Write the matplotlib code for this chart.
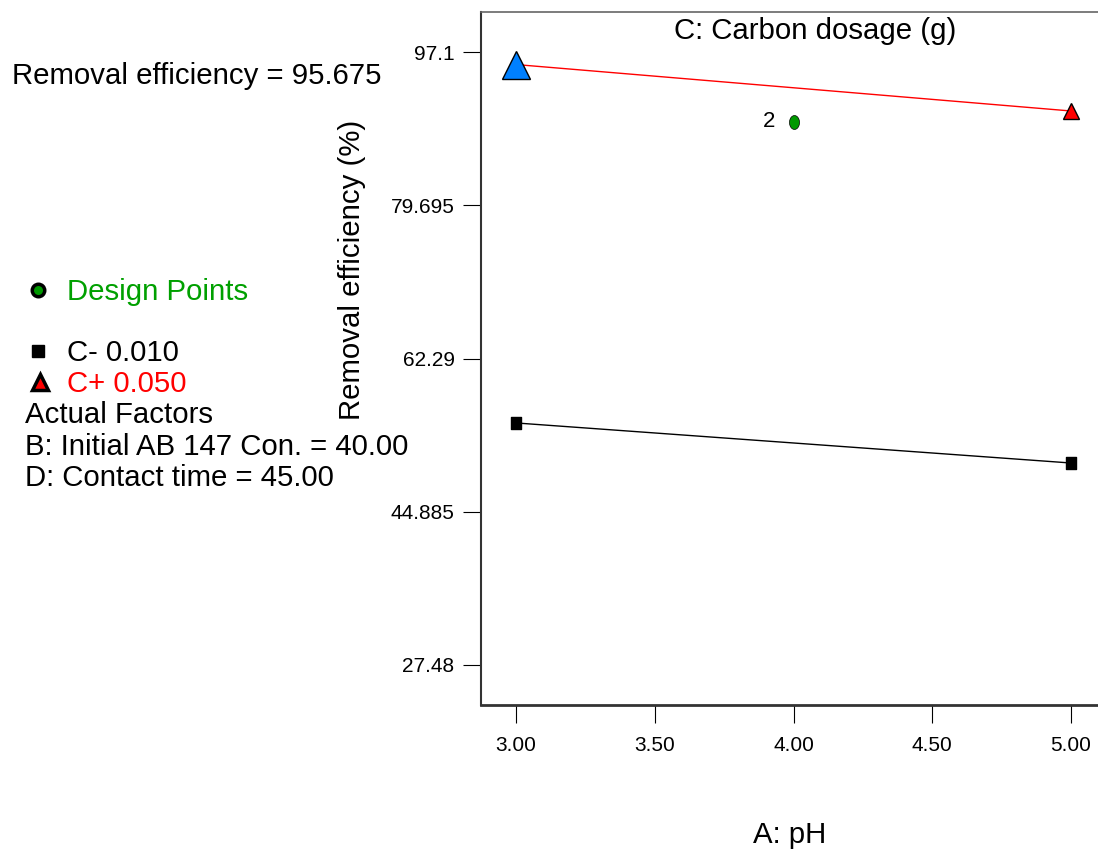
import numpy as np
import matplotlib.pyplot as plt
from matplotlib.path import Path

plt.rcParams['font.family'] = ['Liberation Sans', 'DejaVu Sans']

# A: pH levels and predicted removal efficiency (%) for the two carbon dosages
ph_levels = [3.0, 5.0]
c_low = [54.97, 50.42]      # C- 0.010
c_high = [95.675, 90.40]    # C+ 0.050
design_ph = [4.0]
design_eff = [89.15]
design_count = ["2"]

x_ticks = [3.00, 3.50, 4.00, 4.50, 5.00]
y_ticks = [27.48, 44.885, 62.29, 79.695, 97.1]
y_labels = ["27.48", "44.885", "62.29", "79.695", "97.1"]

BIG = 21.2


def shape(w, h):
    t = np.linspace(0, 2 * np.pi, 40)
    return Path(np.column_stack([w * np.cos(t), h * np.sin(t)]))


def rect(w, h):
    return Path([(-w, -h), (w, -h), (w, h), (-w, h), (-w, -h)],
                [Path.MOVETO, Path.LINETO, Path.LINETO, Path.LINETO, Path.CLOSEPOLY])


def main():
    fig = plt.figure(figsize=(10.98, 8.5), dpi=100)
    W, H = 1098, 850
    left, right, top, bottom = 481, 1104, 12, 705
    ax = fig.add_axes([left / W, 1 - bottom / H, (right - left) / W, (bottom - top) / H])

    # pixel mapping: 3.00 -> 516, 5.00 -> 1071 ; 97.1 -> 52, 27.48 -> 665
    xs = 277.5
    ax.set_xlim(3 + (left - 516) / xs, 3 + (right - 516) / xs)
    ys = (97.1 - 27.48) / (665 - 52)
    ax.set_ylim(97.1 - (bottom - 52) * ys, 97.1 + (52 - top) * ys)

    ax.plot(ph_levels, c_low, color="black", lw=1, zorder=2)
    ax.plot(ph_levels, c_high, color="red", lw=1, zorder=2)
    ax.plot(ph_levels, c_low, ls="none", marker=rect(0.75, 1), ms=9, color="black", zorder=3)
    ax.plot(ph_levels[0], c_high[0], ls="none", marker="^", ms=20,
            markerfacecolor="#0080ff", markeredgecolor="black", mew=1, zorder=3)
    ax.plot(ph_levels[1], c_high[1], ls="none", marker="^", ms=12,
            markerfacecolor="red", markeredgecolor="black", mew=1, zorder=3)
    ax.plot(design_ph, design_eff, ls="none", marker=shape(0.72, 1), ms=10,
            markerfacecolor="#009900", markeredgecolor="black", mew=0.5, zorder=3)
    for x, y, n in zip(design_ph, design_eff, design_count):
        ax.annotate(n, (x, y), xytext=(-13, 0), textcoords="offset points",
                    ha="right", va="center", fontsize=16)

    ax.set_xticks(x_ticks)
    ax.set_xticklabels([f"{v:.2f}" for v in x_ticks])
    ax.set_yticks(y_ticks)
    ax.set_yticklabels(y_labels)
    ax.tick_params(axis="both", direction="out", length=13, width=0.8,
                   labelsize=15, colors="black")
    ax.tick_params(axis="x", pad=9)
    ax.tick_params(axis="y", pad=6)

    ax.spines["right"].set_visible(False)
    ax.spines["left"].set_linewidth(1.5)
    ax.spines["bottom"].set_linewidth(2)
    ax.spines["left"].set_color("#333333")
    ax.spines["bottom"].set_color("#333333")
    ax.spines["top"].set_linewidth(1.2)
    ax.spines["top"].set_color("#666666")

    def fx(px):
        return px / W

    def fy(py):
        return 1 - py / H

    fig.text(fx(815), fy(31), "C: Carbon dosage (g)", ha="center", va="center", fontsize=BIG)
    fig.text(fx(352), fy(270), "Removal efficiency (%)", rotation=90,
             ha="center", va="center", fontsize=BIG)
    fig.text(fx(790), fy(835), "A: pH", ha="center", va="center", fontsize=BIG)

    fig.text(fx(12), fy(76), "Removal efficiency = 95.675", ha="left", va="center", fontsize=BIG)

    leg = fig.add_axes([0, 0, 1, 1], facecolor="none")
    leg.set_xlim(0, W)
    leg.set_ylim(H, 0)
    leg.axis("off")
    leg.plot(38, 290, marker="o", ms=9, markerfacecolor="#009900",
             markeredgecolor="black", mew=2.5, ls="none")
    leg.plot(38, 351, marker="s", ms=9, color="black", ls="none")
    leg.plot(40, 382, marker="^", ms=11, markerfacecolor="red",
             markeredgecolor="black", mew=2.5, ls="none")
    fig.text(fx(67), fy(292), "Design Points", color="#00a000", ha="left", va="center", fontsize=BIG)
    fig.text(fx(67), fy(353), "C- 0.010", color="black", ha="left", va="center", fontsize=BIG)
    fig.text(fx(67), fy(384), "C+ 0.050", color="red", ha="left", va="center", fontsize=BIG)
    fig.text(fx(25), fy(415), "Actual Factors", ha="left", va="center", fontsize=BIG)
    fig.text(fx(25), fy(447), "B: Initial AB 147 Con. = 40.00", ha="left", va="center", fontsize=BIG)
    fig.text(fx(25), fy(478), "D: Contact time = 45.00", ha="left", va="center", fontsize=BIG)

    fig.savefig("out.png", dpi=100)


if __name__ == "__main__":
    main()
